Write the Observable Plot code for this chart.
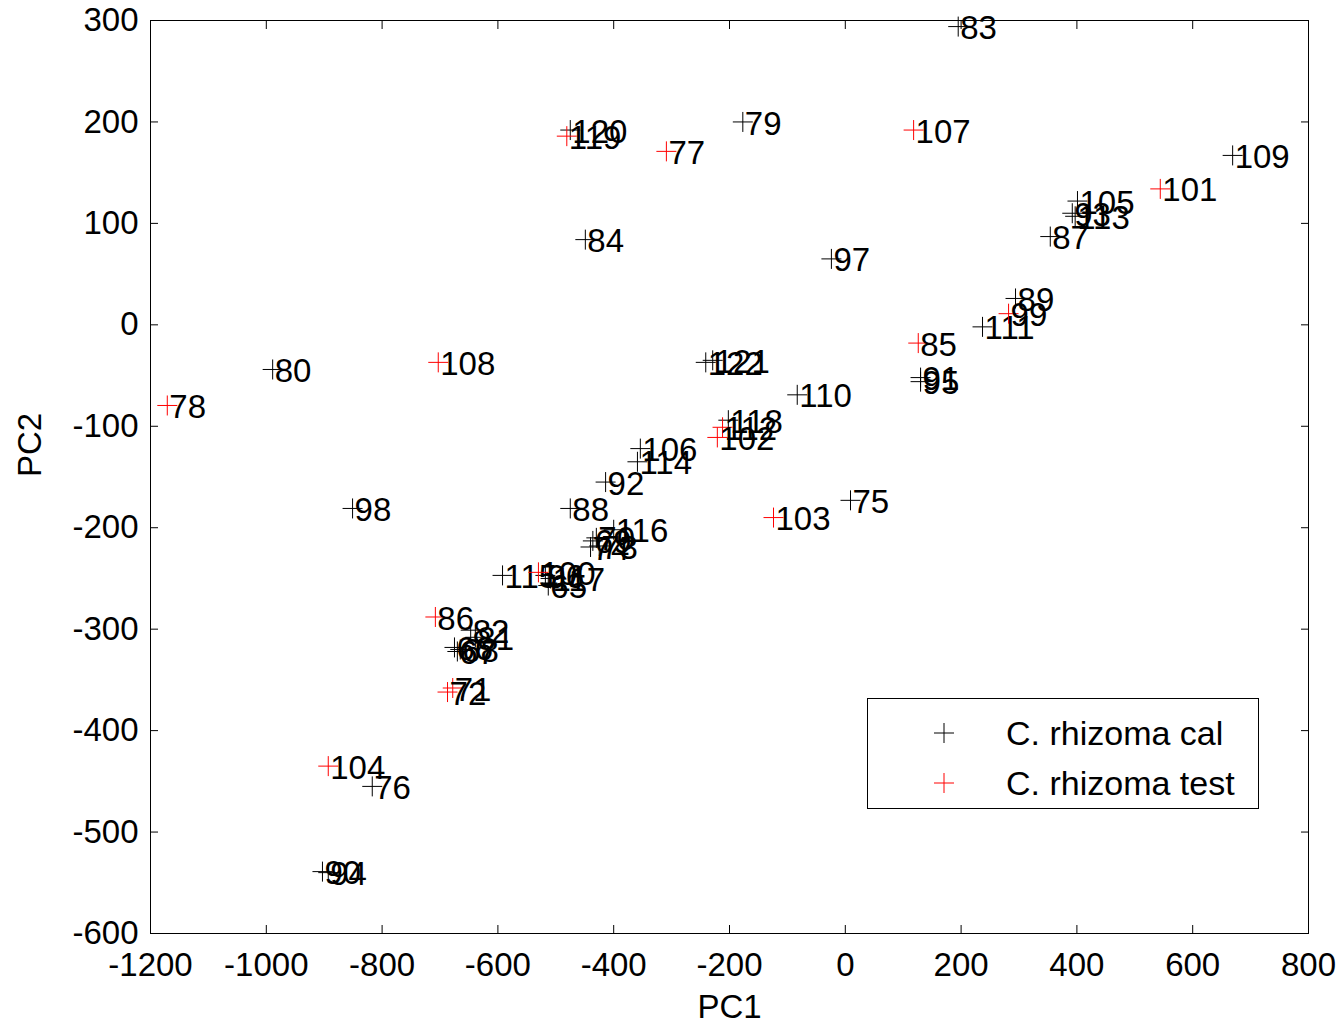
<!DOCTYPE html>
<html>
<head>
<meta charset="utf-8">
<script src="https://cdn.jsdelivr.net/npm/d3@7"></script>
<script src="https://cdn.jsdelivr.net/npm/@observablehq/plot@0.6"></script>
<style>
  html, body { margin: 0; padding: 0; background: #fff; }
  #wrap { position: relative; width: 1340px; height: 1023px; font-family: "Liberation Sans", Arial, sans-serif; }
  #legend { position: absolute; left: 867px; top: 698px; width: 392px; height: 111px; border: 1px solid #000; background: #fff; box-sizing: border-box; }
  .item { position: absolute; left: 0; height: 40px; width: 100%; }
  .item svg { position: absolute; left: 64px; top: 8px; }
  .item span { position: absolute; left: 138px; top: 0; font-size: 34px; line-height: 40px; color: #000; }
</style>
</head>
<body>
<div id="wrap"></div>
<script>
const calLabels = [83,79,120,109,105,93,113,87,84,97,89,111,91,95,80,121,122,110,118,106,114,92,88,116,69,70,73,74,98,75,115,96,117,65,82,81,66,67,68,76,90,94];
const calPC1 = [195,-177,-475,669,401,392,397,354,-449,-24,294,237,130,130,-989,-229,-241,-83,-202,-354,-359,-414,-475,-400,-436,-430,-425,-440,-851,9,-592,-518,-509,-513,-647,-639,-675,-670,-665,-817,-903,-893];
const calPC2 = [294,200,192,167,122,110,107,87,84,65,26,-2,-52,-56,-44,-35,-37,-69,-94,-122,-135,-155,-181,-202,-213,-210,-218,-219,-181,-173,-247,-247,-250,-257,-301,-308,-318,-322,-320,-455,-539,-540];

const testLabels = [119,77,107,101,99,85,108,78,112,102,103,100,86,71,72,104];
const testPC1 = [-481,-309,118,544,282,126,-703,-1171,-212,-221,-124,-530,-708,-678,-687,-893];
const testPC2 = [186,171,192,134,11,-18,-37,-79.5,-101,-111,-190,-244,-288,-358,-362,-435];

const xTicks = [-1200,-1000,-800,-600,-400,-200,0,200,400,600,800];
const yTicks = [-600,-500,-400,-300,-200,-100,0,100,200,300];
const seriesNames = ["C. rhizoma cal", "C. rhizoma test"];
const seriesColors = ["#000000", "#ff0000"];

const cal = calLabels.map((l, i) => ({label: String(l), x: calPC1[i], y: calPC2[i]}));
const test = testLabels.map((l, i) => ({label: String(l), x: testPC1[i], y: testPC2[i]}));

const crossSymbol = {
  draw(context, size) {
    const r = Math.sqrt(size / Math.PI);
    context.moveTo(-r, 0); context.lineTo(r, 0);
    context.moveTo(0, -r); context.lineTo(0, r);
  }
};

const fmt = d => String(d);
const font = {fontSize: 33, fontFamily: "Liberation Sans, Arial, sans-serif"};

const chart = Plot.plot({
  width: 1340,
  height: 1023,
  marginLeft: 150,
  marginRight: 32,
  marginTop: 20,
  marginBottom: 90,
  style: {fontFamily: "Liberation Sans, Arial, sans-serif", fontSize: "33px", background: "#fff", color: "#000"},
  x: {domain: [-1200, 800]},
  y: {domain: [-600, 300]},
  marks: [
    Plot.frame({stroke: "#000", strokeWidth: 1}),
    Plot.axisX({anchor: "bottom", ticks: xTicks, tickFormat: fmt, tickSize: -8, tickPadding: 27, fontSize: 33, label: null}),
    Plot.axisX({anchor: "top", ticks: xTicks, tickSize: -8, text: null, label: null}),
    Plot.axisY({anchor: "left", ticks: yTicks, tickFormat: fmt, tickSize: -8, tickPadding: 20, fontSize: 33, label: null}),
    Plot.axisY({anchor: "right", ticks: yTicks, tickSize: -8, text: null, label: null}),
    Plot.dot(cal, {x: "x", y: "y", symbol: crossSymbol, r: 10, stroke: seriesColors[0], fill: "none", strokeWidth: 1}),
    Plot.text(cal, {x: "x", y: "y", text: "label", textAnchor: "start", dx: 2, dy: 2, fill: seriesColors[0], ...font}),
    Plot.dot(test, {x: "x", y: "y", symbol: crossSymbol, r: 10, stroke: seriesColors[1], fill: "none", strokeWidth: 1}),
    Plot.text(test, {x: "x", y: "y", text: "label", textAnchor: "start", dx: 2, dy: 2, fill: seriesColors[0], ...font}),
    Plot.text(["PC1"], {text: d => d, frameAnchor: "bottom", dy: 84, fill: "#000", ...font}),
    Plot.text(["PC2"], {text: d => d, frameAnchor: "left", dx: -120, rotate: -90, fill: "#000", ...font})
  ]
});

const wrap = document.getElementById("wrap");
wrap.appendChild(chart);

const legend = document.createElement("div");
legend.id = "legend";
seriesNames.forEach((name, i) => {
  const item = document.createElement("div");
  item.className = "item";
  item.style.top = (14 + i * 50) + "px";
  item.innerHTML = `<svg width="24" height="24" viewBox="-12 -12 24 24"><path d="M-10,0L10,0M0,-10L0,10" stroke="${seriesColors[i]}" stroke-width="1" fill="none"/></svg><span>${name}</span>`;
  legend.appendChild(item);
});
wrap.appendChild(legend);
</script>
</body>
</html>
